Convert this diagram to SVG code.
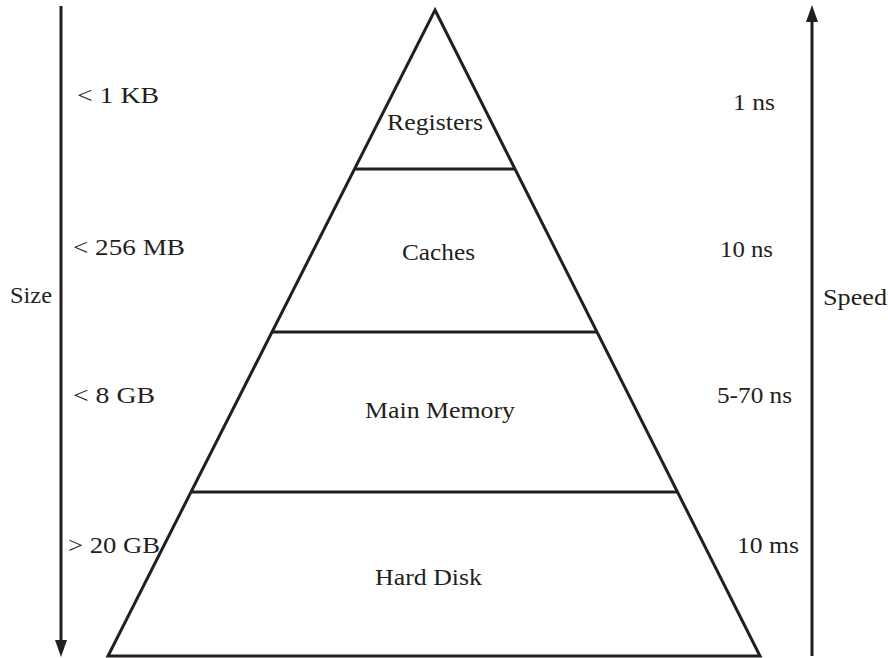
<svg xmlns="http://www.w3.org/2000/svg" width="888" height="658" viewBox="0 0 888 658">
<style>
.ln{stroke:#231f20;stroke-width:3;fill:none}
.t{font-family:"Liberation Serif","DejaVu Serif",serif;font-size:24px;fill:#231f20}
.c{text-anchor:middle}
</style>
<defs>
<marker id="ah" markerUnits="userSpaceOnUse" markerWidth="17" markerHeight="12" refX="0" refY="6" orient="auto">
<path d="M0,0 L17,6 L0,12 z" fill="#231f20"/>
</marker>
</defs>
<rect width="888" height="658" fill="#ffffff"/>
<g id="connectors">
<line class="ln" x1="61" y1="6" x2="61" y2="640" marker-end="url(#ah)"/>
<line class="ln" x1="812" y1="656" x2="812" y2="22" marker-end="url(#ah)"/>
</g>
<g id="pyramid">
<polygon class="ln" points="435,10 760,656 108,656"/>
</g>
<g id="registers">
<text class="t c" x="435" y="130" textLength="96" lengthAdjust="spacingAndGlyphs">Registers</text>
</g>
<g id="caches">
<line class="ln" x1="355" y1="169" x2="515" y2="169"/>
<text class="t c" x="438.5" y="260" textLength="73" lengthAdjust="spacingAndGlyphs">Caches</text>
</g>
<g id="main-memory">
<line class="ln" x1="273" y1="332" x2="597" y2="332"/>
<text class="t c" x="440" y="418" textLength="150" lengthAdjust="spacingAndGlyphs">Main Memory</text>
</g>
<g id="hard-disk">
<line class="ln" x1="192" y1="492" x2="678" y2="492"/>
<text class="t c" x="428.5" y="585" textLength="107" lengthAdjust="spacingAndGlyphs">Hard Disk</text>
</g>
<g id="size-labels">
<text class="t" x="10" y="303" textLength="42" lengthAdjust="spacingAndGlyphs">Size</text>
<text class="t" x="77" y="103" textLength="82" lengthAdjust="spacingAndGlyphs">&lt; 1 KB</text>
<text class="t" x="73" y="255" textLength="112" lengthAdjust="spacingAndGlyphs">&lt; 256 MB</text>
<text class="t" x="73" y="403" textLength="82" lengthAdjust="spacingAndGlyphs">&lt; 8 GB</text>
<text class="t" x="68" y="553" textLength="92" lengthAdjust="spacingAndGlyphs">&gt; 20 GB</text>
</g>
<g id="speed-labels">
<text class="t" x="823" y="305" textLength="64" lengthAdjust="spacingAndGlyphs">Speed</text>
<text class="t" x="733" y="110" textLength="42" lengthAdjust="spacingAndGlyphs">1 ns</text>
<text class="t" x="720" y="257" textLength="53" lengthAdjust="spacingAndGlyphs">10 ns</text>
<text class="t" x="717" y="403" textLength="75" lengthAdjust="spacingAndGlyphs">5-70 ns</text>
<text class="t" x="737" y="553" textLength="62" lengthAdjust="spacingAndGlyphs">10 ms</text>
</g>
</svg>
